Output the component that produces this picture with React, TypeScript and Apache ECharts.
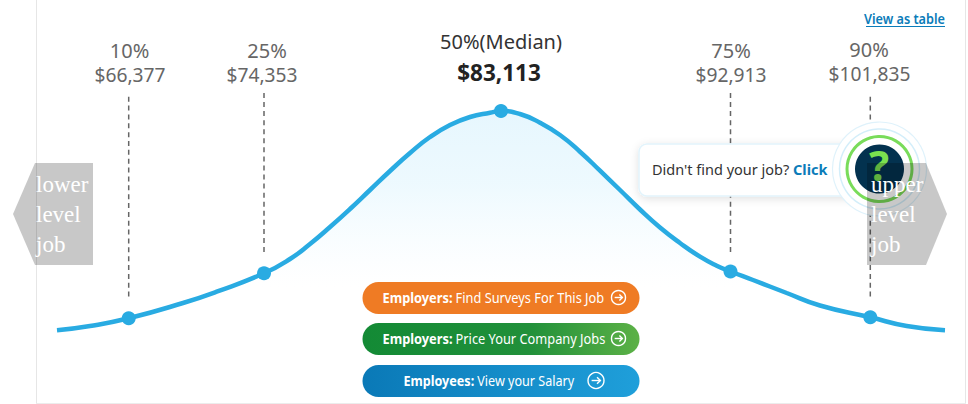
import React, { useEffect, useRef } from "react";
import * as echarts from "echarts";

const curveX = [57, 90, 128.7, 183, 216.7, 264, 290, 310, 330, 350, 370, 390, 410, 430, 450, 470, 490, 501, 520, 540, 560, 580, 600, 620, 640, 660, 680, 700, 716.7, 730.5, 753, 786.7, 820, 870.3, 906.7, 945];
const curveY = [73.7, 78, 85.7, 101, 112.3, 130.7, 145, 160, 177, 195, 214, 233, 251, 267, 279, 287, 291.3, 293, 290, 281.3, 269, 252.3, 233.3, 214, 194.5, 176.5, 161, 147.3, 138.3, 132.5, 124, 111, 98.5, 86.7, 78, 73.7];

const percentileX = [128.7, 264, 501, 730.5, 870.3];
const percentileY = [85.7, 130.7, 293, 132.5, 86.7];
const percentileNames = ["10%", "25%", "50%(Median)", "75%", "90%"];
const salaryLabels = ["$66,377", "$74,353", "$83,113", "$92,913", "$101,835"];

const guideX = [128.7, 264, 730.5, 870.3];
const guideTop = [307.3, 311, 311, 307.3];
const guideBottom = [107.3, 152, 152, 107.3];
const guideGap = [3.86, 4.06, 4.06, 3.86];

const buttonLead = ["Employers:", "Employers:", "Employees:"];
const buttonText = ["Find Surveys For This Job", "Price Your Company Jobs", "View your Salary"];

const SANS = "'Noto Sans', sans-serif";
const SERIF = "'Liberation Serif', serif";
const BLUE = "#29abe2";

function label(text: string, cx: number, cy: number, size: number, fill: string, weight: any = "normal", z = 5, extra: any = {}) {
  return {
    type: "text",
    x: cx,
    y: cy,
    z,
    ...extra,
    style: {
      text,
      fill,
      font: `${weight} ${size}px ${SANS}`,
      align: "center",
      verticalAlign: "middle",
    },
  };
}

function arrowIcon(cx: number, cy: number, r: number) {
  const a = r * 0.55;
  const h = r * 0.42;
  return [
    { type: "circle", z: 7, shape: { cx, cy, r }, style: { fill: "none", stroke: "#fff", lineWidth: 1.4 } },
    { type: "line", z: 7, shape: { x1: cx - a, y1: cy, x2: cx + a, y2: cy }, style: { stroke: "#fff", lineWidth: 1.4 } },
    { type: "polyline", z: 7, shape: { points: [[cx + a - h, cy - h], [cx + a, cy], [cx + a - h, cy + h]] }, style: { fill: "none", stroke: "#fff", lineWidth: 1.4 } },
  ];
}

function button(i: number, top: number, fill: any, textX: number, iconX: number, iconR: number, sx: number) {
  return [
    { type: "rect", z: 6, shape: { x: 362.5, y: top, width: 277, height: 32, r: 16 }, style: { fill } },
    {
      type: "text",
      x: textX,
      y: top + 16,
      z: 7,
      scaleX: sx,
      style: {
        text: `{b|${buttonLead[i]}} {r|${buttonText[i]}}`,
        align: "left",
        verticalAlign: "middle",
        rich: {
          b: { font: `bold 14px ${SANS}`, fill: "#fff" },
          r: { font: `normal 14px ${SANS}`, fill: "#fff" },
        },
      },
    },
    ...arrowIcon(iconX, top + 15.5, iconR),
  ];
}

function chevronText(text: string, x: number) {
  return {
    type: "text",
    x,
    y: 214,
    z: 11,
    style: {
      text,
      fill: "#fff",
      font: `normal 23px ${SERIF}`,
      lineHeight: 30,
      align: "left",
      verticalAlign: "middle",
    },
  };
}

export default function App() {
  const ref = useRef<HTMLDivElement>(null);
  useEffect(() => {
    document.body.style.margin = "0";
    const chart = echarts.init(ref.current!, undefined, { renderer: "svg" });
    const labels: any[] = [];
    const nameY = [50, 50, 41, 50, 49];
    const salaryY = [74, 74, 72, 74, 73];
    const nameCx = [129.5, 267, 501, 731, 869];
    const salaryCx = [130, 262, 499, 731, 869.5];
    percentileNames.forEach((n, i) => {
      const median = i === 2;
      labels.push(label(n, nameCx[i], nameY[i], 20, median ? "#333" : "#666", "normal", 5));
      labels.push(label(salaryLabels[i], salaryCx[i], salaryY[i], median ? 22.5 : 19.2, median ? "#222" : "#666", median ? "bold" : "normal", 5));
    });

    chart.setOption({
      animation: false,
      grid: { left: 0, right: 0, top: 0, bottom: 0 },
      xAxis: { type: "value", min: 0, max: 968, show: false },
      yAxis: { type: "value", min: 0, max: 404, show: false },
      tooltip: { show: false },
      series: [
        ...guideX.map((x, i) => ({
          type: "line",
          z: 1,
          silent: true,
          symbol: "none",
          lineStyle: { color: "#666", width: 1.5, type: [5, guideGap[i]] },
          data: [[x, guideTop[i]], [x, guideBottom[i]]],
        })),
        {
          type: "line",
          z: 2,
          smooth: 0.5,
          symbol: "none",
          lineStyle: { color: BLUE, width: 4.5 },
          areaStyle: {
            color: new echarts.graphic.LinearGradient(0, 0, 0, 1, [
              { offset: 0, color: "#dcf3fd" },
              { offset: 0.25, color: "#e6f7fe" },
              { offset: 0.6, color: "rgba(255,255,255,0.6)" },
              { offset: 1, color: "rgba(255,255,255,0)" },
            ]),
          },
          data: curveX.map((x, i) => [x, curveY[i]]),
        },
        {
          type: "scatter",
          z: 3,
          symbolSize: 14,
          itemStyle: { color: BLUE, opacity: 1 },
          data: percentileX.map((x, i) => [x, percentileY[i]]),
        },
      ],
      graphic: {
        elements: [
          { type: "line", z: 0, shape: { x1: 36.5, y1: 0, x2: 36.5, y2: 404 }, style: { stroke: "#e6e6e6", lineWidth: 1 } },
          { type: "line", z: 0, shape: { x1: 965.5, y1: 0, x2: 965.5, y2: 404 }, style: { stroke: "#e6e6e6", lineWidth: 1 } },
          { type: "line", z: 0, shape: { x1: 36, y1: 403.5, x2: 966, y2: 403.5 }, style: { stroke: "#ececec", lineWidth: 1 } },
          ...labels,
          { type: "text", x: 945, y: 19, z: 5, scaleX: 0.94, style: { text: "View as table", fill: "#0b7cb9", font: `600 13.5px ${SANS}`, align: "right", verticalAlign: "middle" } },
          { type: "line", z: 5, shape: { x1: 866, y1: 26.5, x2: 945, y2: 26.5 }, style: { stroke: "#0b7cb9", lineWidth: 1 } },
          { type: "rect", z: 6, shape: { x: 639, y: 144, width: 220, height: 52, r: 8 }, style: { fill: "#fff", stroke: "#e2f4fc", lineWidth: 1.5, shadowBlur: 8, shadowColor: "rgba(0,0,0,0.12)", shadowOffsetY: 2 } },
          { type: "text", x: 652, y: 168.5, z: 7, style: { text: "Didn't find your job?", fill: "#333", font: `normal 14.5px ${SANS}`, align: "left", verticalAlign: "middle" } },
          { type: "text", x: 793, y: 168.5, z: 7, style: { text: "Click", fill: "#0b7cb9", font: `bold 14.5px ${SANS}`, align: "left", verticalAlign: "middle" } },
          { type: "circle", z: 8, shape: { cx: 879.5, cy: 169, r: 47 }, style: { fill: "#fff", stroke: "#dff2fb", lineWidth: 1.2 } },
          { type: "circle", z: 8, shape: { cx: 879.5, cy: 169, r: 40 }, style: { fill: "#fff", stroke: "#d3eefa", lineWidth: 1.5 } },
          { type: "circle", z: 8, shape: { cx: 879.5, cy: 169, r: 32.5 }, style: { fill: "#fff", stroke: "#79dc5a", lineWidth: 3 } },
          { type: "circle", z: 8, shape: { cx: 879.5, cy: 169, r: 24.5 }, style: { fill: "#03324f" } },
          { type: "text", x: 879, y: 164, z: 9, style: { text: "?", fill: "#7be04f", font: `bold 42px ${SANS}`, align: "center", verticalAlign: "middle" } },
          ...button(0, 282, "#ef7b24", 382.5, 618.5, 7, 0.915),
          ...button(1, 323, new echarts.graphic.LinearGradient(0, 0, 1, 0, [
            { offset: 0, color: "#138a35" },
            { offset: 0.6, color: "#21903a" },
            { offset: 1, color: "#5cb146" },
          ]), 382.5, 618.5, 7, 0.915),
          ...button(2, 365, new echarts.graphic.LinearGradient(0, 0, 1, 0, [
            { offset: 0, color: "#0a79b7" },
            { offset: 1, color: "#1f9fda" },
          ]), 403.5, 596, 8, 0.9),
          { type: "polygon", z: 10, shape: { points: [[13, 214], [35, 163], [93, 163], [93, 265], [35, 265]] }, style: { fill: "rgba(0,0,0,0.215)" } },
          { type: "polygon", z: 10, shape: { points: [[867, 163], [926, 163], [947, 214], [926, 265], [867, 265]] }, style: { fill: "rgba(0,0,0,0.215)" } },
          chevronText("lower\nlevel\njob", 36),
          chevronText("upper\nlevel\njob", 871),
        ],
      },
    });
    return () => chart.dispose();
  }, []);
  return <div ref={ref} style={{ width: 968, height: 404, background: "#fff" }} />;
}
